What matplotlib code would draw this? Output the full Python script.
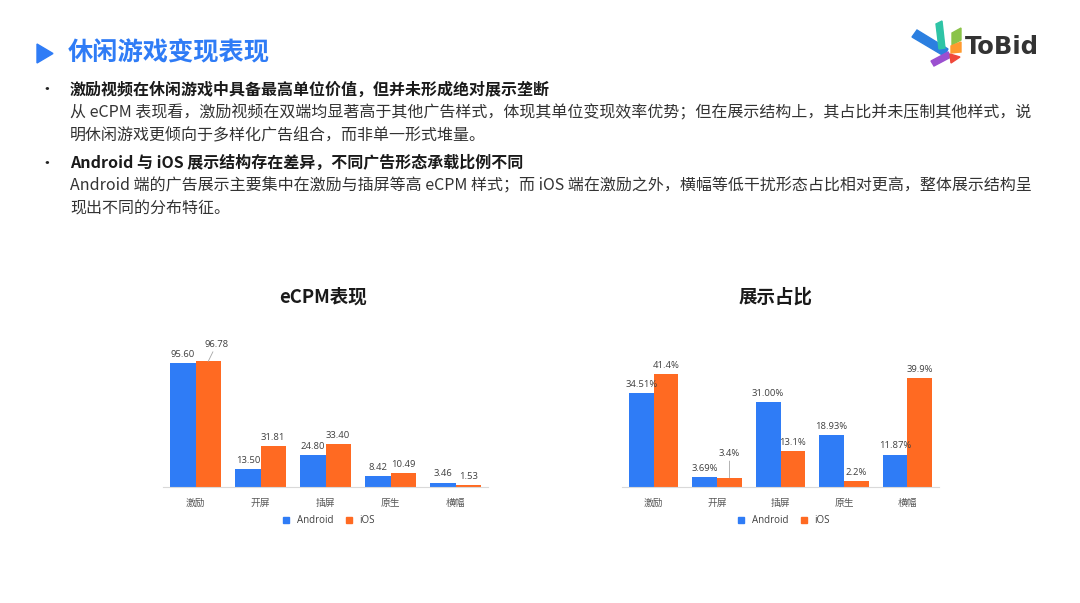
import matplotlib.pyplot as plt
from matplotlib.patches import Polygon
from matplotlib.lines import Line2D

plt.rcParams['font.family'] = ['Noto Sans CJK SC', 'DejaVu Sans']

categories = ['激励', '开屏', '插屏', '原生', '横幅']
series_names = ['Android', 'iOS']
ecpm_android = [95.60, 13.50, 24.80, 8.42, 3.46]
ecpm_ios = [96.78, 31.81, 33.40, 10.49, 1.53]
share_android = [34.51, 3.69, 31.00, 18.93, 11.87]
share_ios = [41.4, 3.4, 13.1, 2.2, 39.9]
share_android_labels = ['34.51%', '3.69%', '31.00%', '18.93%', '11.87%']
share_ios_labels = ['41.4%', '3.4%', '13.1%', '2.2%', '39.9%']

BLUE = '#2F7CF6'
ORANGE = '#FF6A22'
TXT = '#404040'
NUMFONT = ['Open Sans', 'Noto Sans CJK SC']

W, H = 1080, 603
fig = plt.figure(figsize=(W / 100, H / 100), dpi=100)

# overlay in pixel coordinates for the slide text and logo
ov = fig.add_axes([0, 0, 1, 1])
ov.set_xlim(0, W)
ov.set_ylim(H, 0)
ov.axis('off')

ov.add_patch(Polygon([(37, 44), (37, 63), (53, 53.5)], closed=True, color=BLUE))
ov.text(68, 53, '休闲游戏变现表现', fontsize=18.2, fontweight='bold', color=BLUE, va='center')

lines = [
    (90, '激励视频在休闲游戏中具备最高单位价值，但并未形成绝对展示垄断', True),
    (113, '从 eCPM 表现看，激励视频在双端均显著高于其他广告样式，体现其单位变现效率优势；但在展示结构上，其占比并未压制其他样式，说', False),
    (136, '明休闲游戏更倾向于多样化广告组合，而非单一形式堆量。', False),
    (163, 'Android 与 iOS 展示结构存在差异，不同广告形态承载比例不同', True),
    (186, 'Android 端的广告展示主要集中在激励与插屏等高 eCPM 样式；而 iOS 端在激励之外，横幅等低干扰形态占比相对更高，整体展示结构呈', False),
    (209, '现出不同的分布特征。', False),
]
for y, s, bold in lines:
    ov.text(70, y, s, fontsize=11.5, fontweight='bold' if bold else 'normal',
            color='#1a1a1a' if bold else '#333333', va='center')
for y in (90, 163):
    ov.text(47, y, '•', fontsize=12, color='#222222', va='center', ha='center')

# logo
logo = [
    ([(912, 37), (917, 30), (948, 49), (944, 56)], '#2B7FE0'),
    ([(936, 24), (942, 21), (945, 48), (939, 49)], '#2EC4A6'),
    ([(952, 33), (961, 28), (961, 40), (952, 45)], '#8BC34A'),
    ([(951, 46), (961, 42), (961, 52), (951, 53)], '#FF9A2E'),
    ([(931, 61), (948, 52), (951, 57), (934, 66)], '#9B4FD0'),
    ([(950, 54), (960, 57), (951, 63)], '#F0483A'),
]
for pts, c in logo:
    ov.add_patch(Polygon(pts, closed=True, color=c))
ov.text(965, 47, 'ToBid', fontsize=17.5, fontweight='bold', color='#333333',
        va='center', family=['DejaVu Sans'])


def px_axes(x0, x1, y0, y1):
    return fig.add_axes([x0 / W, (H - y1) / H, (x1 - x0) / W, (y1 - y0) / H])


def draw(ax, a_vals, i_vals, a_lab, i_lab, ymax, special):
    x = list(range(len(categories)))
    bw = 0.39
    ba = ax.bar([v - bw / 2 for v in x], a_vals, bw, color=BLUE, label='Android')
    bi = ax.bar([v + bw / 2 for v in x], i_vals, bw, color=ORANGE, label='iOS')
    ax.set_xlim(-0.5, len(categories) - 0.5)
    ax.set_ylim(0, ymax)
    for s in ['top', 'right', 'left']:
        ax.spines[s].set_visible(False)
    ax.spines['bottom'].set_color('#D9D9D9')
    ax.set_yticks([])
    ax.set_xticks(x)
    ax.set_xticklabels(categories, fontsize=7, color='#595959')
    ax.tick_params(axis='x', length=0, pad=8)
    for bars, labs, key in ((ba, a_lab, 'a'), (bi, i_lab, 'i')):
        for j, (b, t) in enumerate(zip(bars, labs)):
            cx = b.get_x() + b.get_width() / 2
            top = b.get_height()
            if (key, j) in special:
                dx, dy = special[(key, j)]
                ax.annotate(t, (cx, top), xytext=(dx, dy), textcoords='offset points',
                            ha='center', va='bottom', fontsize=6.8, color=TXT,
                            family=NUMFONT,
                            arrowprops=dict(arrowstyle='-', color='#A6A6A6', lw=0.6,
                                            shrinkA=0, shrinkB=0))
            else:
                ax.annotate(t, (cx, top), xytext=(0, 3), textcoords='offset points',
                            ha='center', va='bottom', fontsize=6.8, color=TXT,
                            family=NUMFONT)
    handles = [Line2D([], [], marker='s', ls='', color=BLUE, markersize=4.5),
               Line2D([], [], marker='s', ls='', color=ORANGE, markersize=4.5)]
    ax.legend(handles, series_names, loc='center', bbox_to_anchor=(0.5, -0.215),
              ncol=2, frameon=False, fontsize=7, handletextpad=0.05,
              columnspacing=0.6, labelcolor='#404040',
              prop={'family': NUMFONT, 'size': 7})


ax1 = px_axes(163, 488, 330, 487)
draw(ax1, ecpm_android, ecpm_ios,
     ['%.2f' % v for v in ecpm_android], ['%.2f' % v for v in ecpm_ios],
     157 / 1.297, {('i', 0): (6, 9)})
ax2 = px_axes(622, 939, 330, 487)
draw(ax2, share_android, share_ios, share_android_labels, share_ios_labels,
     157 / 2.73, {('i', 1): (0, 14)})

fig.text(323 / W, 1 - 297 / H, 'eCPM表现', fontsize=13.3, fontweight='bold',
         color='#1a1a1a', ha='center', va='center')
fig.text(776 / W, 1 - 297 / H, '展示占比', fontsize=13.3, fontweight='bold',
         color='#1a1a1a', ha='center', va='center')

fig.savefig('out.png', dpi=100, facecolor='white')
